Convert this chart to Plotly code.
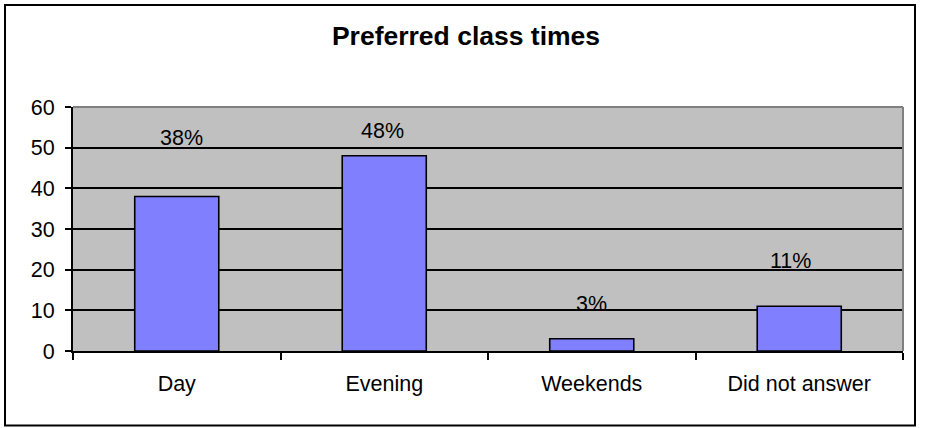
import plotly.graph_objects as go

# Survey results: preferred class times (percent of respondents)
categories = ["Day", "Evening", "Weekends", "Did not answer"]
percentages = [38, 48, 3, 11]
y_ticks = [0, 10, 20, 30, 40, 50, 60]

# Where each percentage label sits (axis units) and its horizontal nudge (px)
label_heights = [52.4, 54.1, 11.6, 22.1]
label_xshift = [5, -2, 0, -9]

FONT = "Liberation Sans, Arial, sans-serif"

fig = go.Figure()
fig.add_trace(go.Bar(
    x=categories,
    y=percentages,
    marker=dict(color="#8080FF", line=dict(color="black", width=1.6)),
    hoverinfo="x+y",
))

for cat, val, h, dx in zip(categories, percentages, label_heights, label_xshift):
    fig.add_annotation(
        x=cat, y=h, text=f"{val}%", showarrow=False,
        xshift=dx, yanchor="middle",
        font=dict(family=FONT, size=21.5, color="black"),
    )

# Plot area occupies x 73..903, y 107..351 in a 926x428 canvas
L, R, T, B = 73, 903, 107, 351
W, H = R - L, B - T


def px_x(p):
    return (p - L) / W


def px_y(p):
    return (B - p) / H


shapes = [
    # grey top and right edges of the plot area
    dict(type="line", xref="paper", yref="paper", x0=0, x1=1, y0=1, y1=1,
         line=dict(color="#808080", width=2)),
    dict(type="line", xref="paper", yref="paper", x0=1, x1=1, y0=0, y1=1,
         line=dict(color="#808080", width=2)),
    # outer chart frame
    dict(type="rect", xref="paper", yref="paper",
         x0=px_x(5), x1=px_x(915), y0=px_y(425.5), y1=px_y(5),
         line=dict(color="black", width=2), fillcolor="rgba(0,0,0,0)"),
]

fig.update_layout(
    width=926, height=428,
    margin=dict(l=L, r=926 - R, t=T, b=428 - B),
    paper_bgcolor="white",
    plot_bgcolor="#C0C0C0",
    showlegend=False,
    bargap=0.595,
    font=dict(family=FONT, size=21, color="black"),
    title=dict(
        text="<b>Preferred class times</b>",
        x=px_x(466), xanchor="center", xref="paper",
        y=1 - 36 / 428, yanchor="middle", yref="container",
        font=dict(family=FONT, size=26.5, color="black"),
    ),
    shapes=shapes,
)

fig.update_xaxes(
    type="category",
    showgrid=False,
    showline=True, linecolor="black", linewidth=2,
    ticks="outside", ticklen=7, tickwidth=2, tickcolor="black",
    tickson="boundaries",
    ticklabelstandoff=12,
    tickfont=dict(family=FONT, size=21.5, color="black"),
)

fig.update_yaxes(
    range=[0, 60],
    tickvals=y_ticks,
    showgrid=True, gridcolor="black", gridwidth=2,
    zeroline=False,
    showline=True, linecolor="black", linewidth=2,
    ticks="outside", ticklen=6, tickwidth=2, tickcolor="black",
    ticklabelstandoff=6,
    tickfont=dict(family=FONT, size=21.5, color="black"),
)

fig.write_html("out.html")
